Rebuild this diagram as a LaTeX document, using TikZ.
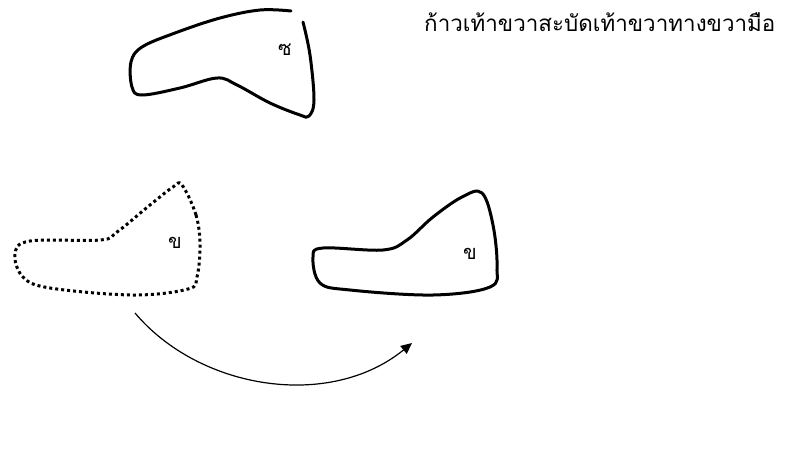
\documentclass[tikz,border=0pt]{standalone}
\usepackage{fontspec}
\newfontfamily\thaifont[Script=Thai]{Loma}
\usetikzlibrary{arrows.meta}
\begin{document}
\begin{tikzpicture}[x=1pt,y=-1pt,
  blob/.style={line width=3pt,line join=round,line cap=round},
  dotblob/.style={line width=3pt,dash pattern=on 3pt off 3pt},
  lbl/.style={font=\thaifont\fontsize{20}{20}\selectfont,inner sep=0pt}]
\useasboundingbox (0,0) rectangle (798,464);
% top shape (solid, small gap top-right)
\draw[blob] plot[smooth,tension=0.6] coordinates {(303,22) (310,55) (314,100) (309,116) (300,115) (270,103) (237,85) (217,78) (180,88) (142,95) (132,87) (131,62) (142,47) (175,33) (220,18) (260,10) (291,11)};
\node[lbl] (t) at (285,50) {ซ};
% dotted shape
\draw[dotblob] plot[smooth cycle,tension=0.6] coordinates {(182,185) (196,215) (200,245) (197,277) (188,289) (133,295) (50,288) (23,277) (15,254) (30,241) (100,240) (117,232) (150,205) (173,187)};
\node[lbl] (a) at (175,243) {ข};
% right shape
\draw[blob] plot[smooth cycle,tension=0.6] coordinates {(482,193) (493,225) (497,267) (490,287) (433,295) (350,290) (320,283) (313,257) (323,248) (383,250) (407,240) (433,217) (462,197)};
\node[lbl] (b) at (470,254) {ข};
% arrow
\coordinate (s) at (135,313);
\coordinate (e) at (412,343);
\draw[line width=1.2pt,-{Triangle[length=11pt,width=10pt]}] (s) .. controls (200,390) and (330,410) .. (e);
% title
\node[font=\thaifont\fontsize{22.4}{22.4}\selectfont,anchor=west,inner sep=0pt] (title) at (424,22) {ก้าวเท้าขวาสะบัดเท้าขวาทางขวามือ};
\end{tikzpicture}
\end{document}
